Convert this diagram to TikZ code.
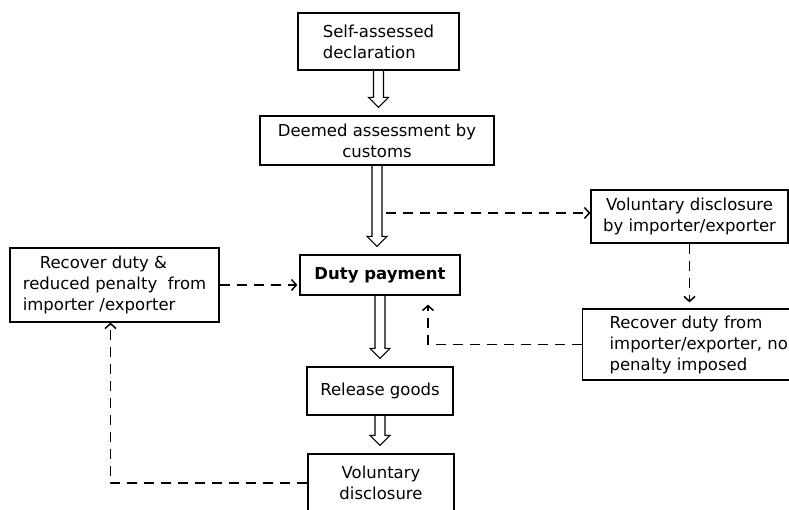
\documentclass[tikz,border=0pt]{standalone}
\usepackage{fontspec}
\setmainfont{DejaVu Sans}
\usetikzlibrary{arrows.meta, positioning, calc}

\begin{document}
\begin{tikzpicture}[x=1pt, y=1pt, >={Straight Barb[length=5pt,width=11pt]},
		box/.style={rectangle, draw=black, fill=white, line width=1.2pt, inner sep=4pt, font=\fontsize{16.5}{21}\selectfont},
		hollow/.style={draw=black, line width=1.1pt, to path={let \p1=(\tikztostart), \p2=(\tikztotarget) in
			(\x1-5pt,\y1) -- (\x1-5pt,\y2+18pt) -- (\x1-10pt,\y2+18pt) -- (\x1,\y2+8pt) -- (\x1+10pt,\y2+18pt) -- (\x1+5pt,\y2+18pt) -- (\x1+5pt,\y1)}},
		link/.style={black, line width=1.5pt, dash pattern=on 10pt off 7pt}]
		
		\useasboundingbox (0,0) rectangle (789,510);
		\clip (0,0) rectangle (789,510);
		
		% Main column
		\node[box, align=left, minimum width=161pt, minimum height=57pt] (sad) at (378.5, 468.5) {Self-assessed\\declaration};
		\node[box, align=center, minimum width=234pt, minimum height=49pt] (dam) at (377, 369.5) {Deemed assessment by\\customs};
		\node[box, minimum width=160pt, minimum height=40pt] (dp) at (380, 235) {\textbf{Duty payment}};
		\node[box, minimum width=146pt, minimum height=48pt] (rg) at (380, 119) {Release goods};
		\node[box, align=center, minimum width=146pt, minimum height=58pt] (vd) at (381, 27) {Voluntary\\disclosure};
		
		% Side boxes
		\node[box, align=center, minimum width=197pt, minimum height=53pt] (vdi) at (689.5, 293.5) {Voluntary disclosure\\by importer/exporter};
		\node[box, align=left, anchor=west, inner xsep=27pt, minimum height=71pt] (rdn) at (582, 165.5) {Recover duty from\\importer/exporter, no\\penalty imposed};
		\node[box, align=left, minimum width=209pt, minimum height=74pt] (rdp) at (114.5, 225) {\hspace{17pt}Recover duty \&\\reduced penalty\ \ from\\importer /exporter};
		
		% Hollow arrows
		\draw[hollow] (sad.south) to (dam.north);
		\draw[hollow] (dam.south) to (dp.north);
		\draw[hollow] (dp.south) to (rg.north);
		\draw[hollow] (rg.south) to (vd.north);
		
		% Dashed arrows
		\coordinate (s1) at (386, 297);
		\draw[link, ->] (s1) -- (s1 -| vdi.west);
		\draw[link, ->, shorten >=6pt] (vdi.south) -- (vdi.south |- rdn.north);
		\draw[link, ->, shorten >=9pt] (rdn.west) -| ($(dp.south)+(48pt,0)$);
		\draw[link, ->, shorten >=2pt] (rdp.east) -- (rdp.east -| dp.west);
		\draw[link, ->] (vd.west) -| ($(rdp.south)+(-4pt,0)$);
		
	\end{tikzpicture}
\end{document}
